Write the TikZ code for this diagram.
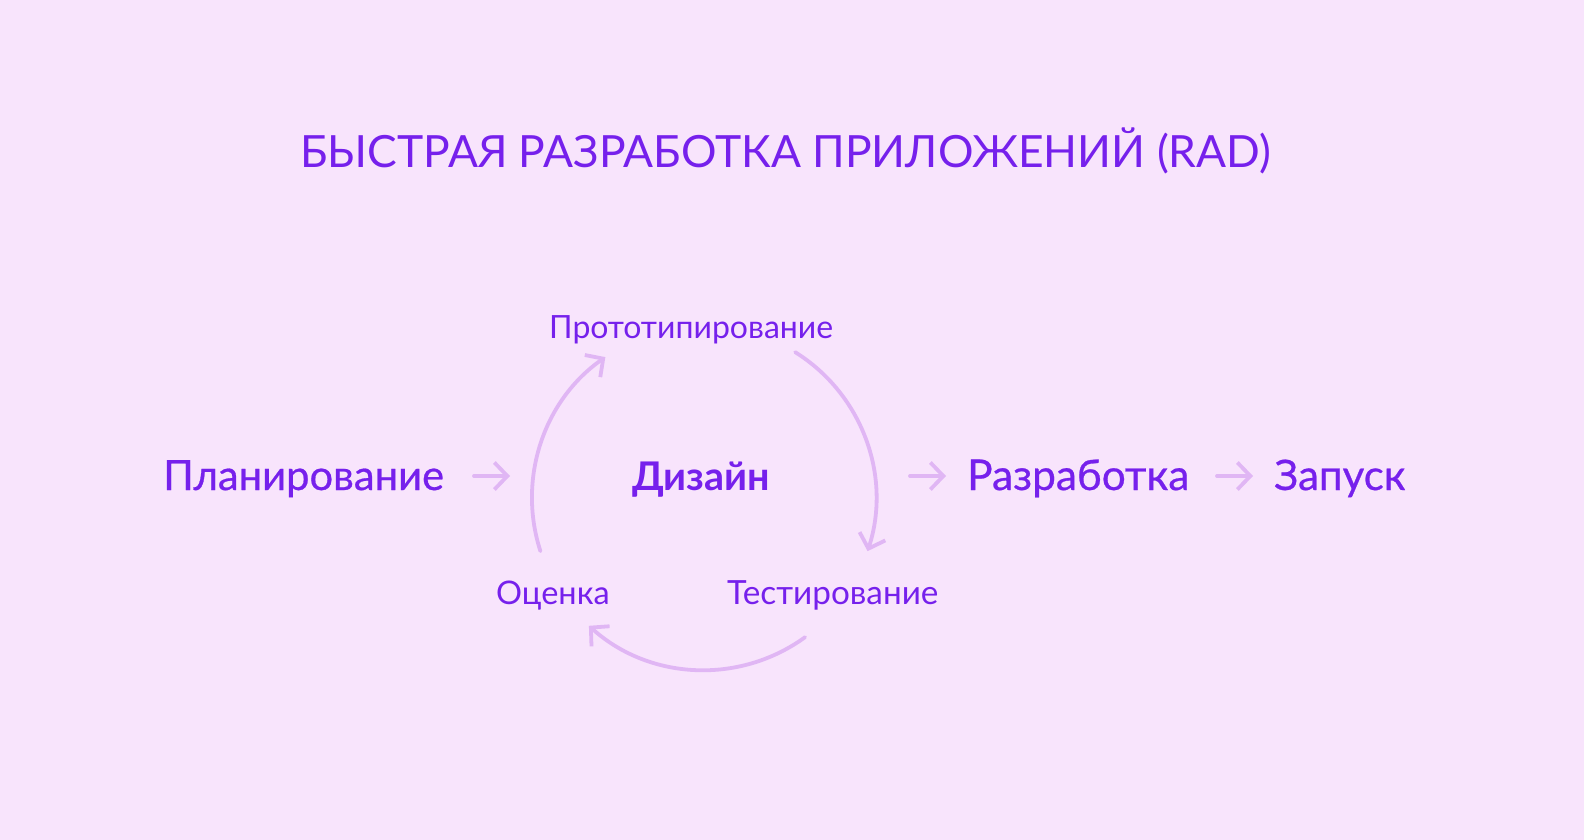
\documentclass[tikz,border=0pt]{standalone}
\usepackage{fontspec}
\setmainfont{Lato}
\newfontfamily\medfont[FakeBold=0.6]{Lato}
\usetikzlibrary{arrows.meta}
\definecolor{bgc}{HTML}{F8E4FC}
\definecolor{txt}{HTML}{7620EC}
\definecolor{arc}{HTML}{E0B6F4}
\tikzset{
  lbl/.style={anchor=base west, inner sep=0pt, text=txt},
  arr/.style={draw=arc, line width=3.8pt, line cap=round, -{Straight Barb[length=13pt,width=27pt,line width=3.8pt]}},
}
\begin{document}
\begin{tikzpicture}[x=1pt,y=-1pt]
\fill[bgc] (0,0) rectangle (1584,840);
\useasboundingbox (0,0) rectangle (1584,840);
\node[lbl, font=\fontsize{44.4}{52}\selectfont] (title) at (300,167) {БЫСТРАЯ РАЗРАБОТКА ПРИЛОЖЕНИЙ (RAD)};
\node[lbl, font=\medfont\fontsize{41.7}{48}\selectfont] (plan) at (163,490) {Планирование};
\node[lbl, font=\bfseries\fontsize{39.5}{48}\selectfont] (design) at (632,490) {Дизайн};
\node[lbl, font=\medfont\fontsize{42.4}{48}\selectfont] (dev) at (967,490) {Разработка};
\node[lbl, font=\medfont\fontsize{42}{48}\selectfont] (launch) at (1274,490) {Запуск};
\node[lbl, font=\fontsize{32}{36}\selectfont] (proto) at (549,338) {Прототипирование};
\node[lbl, font=\fontsize{32.5}{36}\selectfont] (eval) at (496,604) {Оценка};
\node[lbl, font=\fontsize{33.3}{36}\selectfont] (test) at (727,604) {Тестирование};
% straight arrows
\coordinate (a1s) at (474,476); \coordinate (a1e) at (510,476);
\coordinate (a2s) at (910,476); \coordinate (a2e) at (946,476);
\coordinate (a3s) at (1217,476); \coordinate (a3e) at (1253,476);
\draw[arr] (a1s) -- (a1e);
\draw[arr] (a2s) -- (a2e);
\draw[arr] (a3s) -- (a3e);
% cycle arcs
\coordinate (c) at (704,498);
\draw[arr] ([shift={(162:172)}]c) arc[start angle=162, end angle=235, radius=172];
\draw[arr] ([shift={(302:172)}]c) arc[start angle=302, end angle=378, radius=172];
\draw[arr] ([shift={(54:172)}]c) arc[start angle=54, end angle=132, radius=172];
\end{tikzpicture}
\end{document}
